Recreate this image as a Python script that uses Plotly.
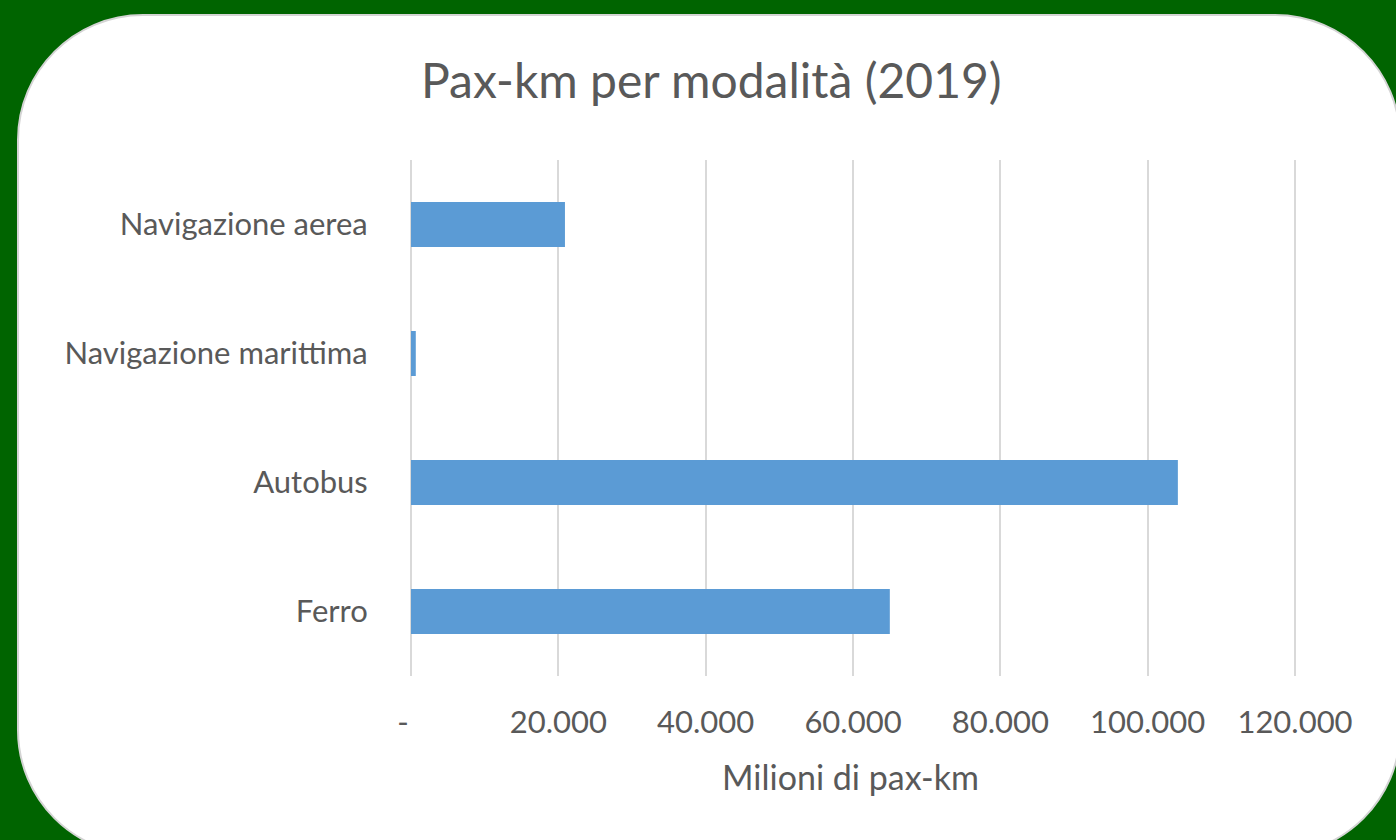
import plotly.graph_objects as go

categories = ["Ferro", "Autobus", "Navigazione marittima", "Navigazione aerea"]
values = [65000, 104100, 650, 20900]
tick_vals = [0, 20000, 40000, 60000, 80000, 100000, 120000]
tick_text = ["-\u00a0\u00a0", "20.000", "40.000", "60.000", "80.000", "100.000", "120.000"]
title_text = "Pax-km per modalità (2019)"
x_title = "Milioni di pax-km"

W, H = 1396, 840
FONT = "Lato"
GREY = "#595959"

def px(x):
    return x / W

def py(y):
    return 1 - y / H

def P(x, y):
    return f"{px(x):.5f},{py(y):.5f}"

# rounded card path (pixel coords -> paper coords)
L, T, R, B, r = 18, 15, 1400, 855, 125
k = 0.5523 * r
path = (
    f"M {P(L + r, T)} L {P(R - r, T)} "
    f"C {P(R - r + k, T)} {P(R, T + r - k)} {P(R, T + r)} "
    f"L {P(R, B - r)} "
    f"C {P(R, B - r + k)} {P(R - r + k, B)} {P(R - r, B)} "
    f"L {P(L + r, B)} "
    f"C {P(L + r - k, B)} {P(L, B - r + k)} {P(L, B - r)} "
    f"L {P(L, T + r)} "
    f"C {P(L, T + r - k)} {P(L + r - k, T)} {P(L + r, T)} Z"
)

# x range padded slightly so that gridlines at 0 and 120.000 are drawn
X0, X1 = -300, 120300
scale = (1295 - 411) / 120000.0
dom_l = 411 + X0 * scale
dom_r = 1295 + (X1 - 120000) * scale

fig = go.Figure(
    go.Bar(
        y=categories,
        x=values,
        orientation="h",
        marker=dict(color="#5b9bd5", line=dict(width=0)),
        hoverinfo="x+y",
    )
)

fig.update_layout(
    width=W,
    height=H,
    autosize=False,
    margin=dict(l=0, r=0, t=0, b=0, pad=0),
    paper_bgcolor="#006400",
    plot_bgcolor="rgba(0,0,0,0)",
    bargap=0.65,
    showlegend=False,
    font=dict(family=FONT, color=GREY),
    shapes=[
        dict(
            type="path",
            path=path,
            xref="paper",
            yref="paper",
            fillcolor="white",
            line=dict(color="#d4d4d4", width=2),
            layer="below",
        )
    ],
    annotations=[
        dict(
            text=title_text,
            x=px(711),
            y=py(79),
            xref="paper",
            yref="paper",
            xanchor="center",
            yanchor="middle",
            showarrow=False,
            font=dict(family=FONT, size=48, color=GREY),
        ),
        dict(
            text=x_title,
            x=px(851),
            y=py(776),
            xref="paper",
            yref="paper",
            xanchor="center",
            yanchor="middle",
            showarrow=False,
            font=dict(family=FONT, size=34, color=GREY),
        ),
    ],
)

fig.update_xaxes(
    domain=[px(dom_l), px(dom_r)],
    range=[X0, X1],
    tickvals=tick_vals,
    ticktext=tick_text,
    showgrid=True,
    gridcolor="#d9d9d9",
    gridwidth=2,
    zeroline=False,
    showline=False,
    ticks="",
    automargin=False,
    ticklabelstandoff=25,
    tickfont=dict(family=FONT, size=31, color=GREY),
    fixedrange=True,
)
fig.update_yaxes(
    domain=[py(676), py(160)],
    categoryorder="array",
    categoryarray=categories,
    showgrid=False,
    zeroline=False,
    showline=False,
    ticks="",
    automargin=False,
    ticklabelstandoff=40,
    tickfont=dict(family=FONT, size=31, color=GREY),
    fixedrange=True,
)

fig.write_html(
    "out.html",
    config={"displayModeBar": False},
    post_script="document.body.style.margin='0';document.body.style.overflow='hidden';",
)
